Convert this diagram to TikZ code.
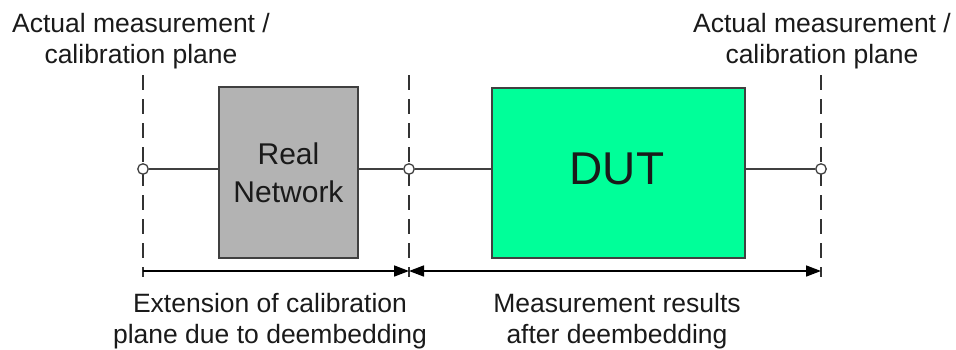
\documentclass[tikz,border=0pt]{standalone}
\usepackage{fontspec}
\setmainfont{Liberation Sans}
\usetikzlibrary{arrows.meta}
\definecolor{boxgray}{HTML}{B3B3B3}
\definecolor{dutgreen}{HTML}{00FF99}
\definecolor{edgegray}{HTML}{404040}
\definecolor{txt}{HTML}{1A1A1A}
\begin{document}
\begin{tikzpicture}[x=1pt,y=-1pt,
  plane/.style={draw=black!80, line width=1.6pt, dash pattern=on 15pt off 9pt},
  port/.style={circle, draw=edgegray, fill=white, line width=1.3pt, inner sep=0pt, minimum size=10.5pt},
  block/.style={draw=edgegray, line width=1.6pt, inner sep=0pt, align=center, text=txt},
  wire/.style={draw=edgegray, line width=1.4pt},
  dim/.style={draw=black, line width=1.6pt},
  lbl/.style={font=\fontsize{26.5}{31}\selectfont, align=center, inner sep=0pt, text=txt}]
\useasboundingbox (0,0) rectangle (956,349);

% calibration planes
\coordinate (t1) at (143,75);  \coordinate (b1) at (143,277);
\coordinate (t2) at (409,75);  \coordinate (b2) at (409,277);
\coordinate (t3) at (821,75);  \coordinate (b3) at (821,277);
\draw[plane] (t1) -- (b1);
\draw[plane] (t2) -- (b2);
\draw[plane] (t3) -- (b3);

% ports
\node[port] (c1) at (143,169) {};
\node[port] (c2) at (409,169) {};
\node[port] (c3) at (821,169) {};

% blocks
\node[block, fill=boxgray, minimum width=139pt, minimum height=171pt,
      font=\fontsize{30}{38}\selectfont] (real) at (288.5,172.5) {Real\\Network};
\node[block, fill=dutgreen, minimum width=253pt, minimum height=170pt] (dut) at (618.5,173) {};
\node[font=\fontsize{46}{55}\selectfont, inner sep=0pt, text=txt] (duttext) at (617,169) {DUT};

% wires
\draw[wire] (c1) -- (c1 -| real.west);
\draw[wire] (c2 -| real.east) -- (c2);
\draw[wire] (c2) -- (c2 -| dut.west);
\draw[wire] (c3 -| dut.east) -- (c3);

% dimension arrows
\coordinate (m1) at (143,271);
\coordinate (m2) at (409,271);
\coordinate (m3) at (821,271);
\draw[dim, -{Triangle[length=15pt,width=11pt]}] (m1) -- (m2);
\draw[dim, {Triangle[length=15pt,width=11pt]}-{Triangle[length=15pt,width=11pt]}] (m2) -- (m3);

% labels
\node[lbl, anchor=north] (ltl) at (141,13) {Actual measurement /\\calibration plane};
\node[lbl, anchor=north] (ltr) at (822,13) {Actual measurement /\\calibration plane};
\node[lbl, anchor=north] (lbl1) at (270,293) {Extension of calibration\\plane due to deembedding};
\node[lbl, anchor=north] (lbl2) at (617,293) {Measurement results\\after deembedding};
\end{tikzpicture}
\end{document}
